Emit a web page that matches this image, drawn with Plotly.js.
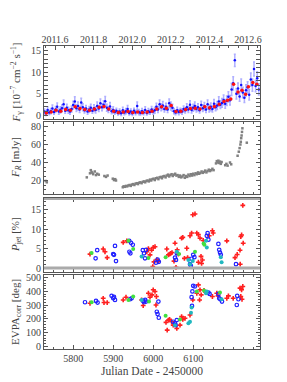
<!DOCTYPE html>
<html><head><meta charset="utf-8">
<script src="https://cdn.plot.ly/plotly-3.0.1.min.js"></script>
<style>html,body{margin:0;padding:0;background:#fff}#chart{width:287px;height:382px}</style>
</head><body><div id="chart"></div>
<script>
// ---- Gamma-ray flux (daily-ish, blue) ----
const gBlueJD = [5728,5732,5736,5740,5744,5748,5752,5756,5760,5764,
5768,5772,5776,5780,5784,5788,5792,5796,5800,5804,
5808,5812,5816,5820,5824,5828,5832,5836,5840,5844,
5848,5852,5856,5860,5864,5868,5872,5876,5880,5884,
5888,5892,5896,5900,5904,5908,5912,5916,5920,5924,
5928,5932,5936,5940,5944,5948,5952,5956,5960,5964,
5968,5972,5976,5980,5984,5988,5992,5996,6000,6004,
6008,6012,6016,6020,6024,6028,6032,6036,6040,6044,
6048,6052,6056,6060,6064,6068,6072,6076,6080,6084,
6088,6092,6096,6100,6104,6108,6112,6116,6120,6124,
6128,6132,6136,6140,6144,6148,6152,6156,6160,6164,
6168,6172,6176,6180,6184,6188,6192,6196,6200,6204,
6208,6212,6216,6220,6224,6228,6232,6236,6240,6244,
6248,6252,6256,6260,6264];
const gBlueVal = [0.9,0.5,1.3,0.7,1.0,1.6,0.8,1.4,2.0,0.9,
1.3,1.7,2.6,1.1,1.8,1.2,0.9,1.5,2.4,3.2,
1.7,2.2,1.4,3.0,1.9,1.2,1.6,0.9,1.4,1.8,
1.1,1.7,1.3,2.2,1.6,2.8,1.9,2.5,3.3,1.8,
1.4,2.1,1.0,1.3,0.8,1.1,0.6,0.9,0.5,1.2,
0.7,1.0,1.5,0.6,0.9,0.5,1.1,0.7,2.2,0.8,
0.6,1.0,0.7,1.3,0.6,1.0,0.8,1.4,0.9,1.2,
2.0,1.4,2.6,1.9,2.3,1.5,2.0,1.4,2.8,2.2,
1.8,1.0,0.7,1.2,0.8,1.1,0.9,1.5,1.2,1.9,
1.4,2.5,1.3,1.8,2.2,1.5,1.9,1.2,2.4,1.7,
2.1,1.4,2.6,1.6,2.0,1.5,2.7,1.9,2.3,3.2,
2.5,2.9,3.6,2.7,3.4,4.3,3.5,6.0,7.4,12.7,
5.0,6.2,4.4,7.0,5.3,4.1,5.8,6.5,4.8,8.3,
7.0,10.7,6.8,8.6,6.0];
const gBlueErr = [0.6,0.5,0.7,0.5,0.6,0.8,0.5,0.7,0.9,0.6,
0.7,0.8,1.0,0.6,0.8,0.7,0.6,0.7,0.9,1.1,
0.8,0.9,0.7,1.0,0.8,0.6,0.7,0.6,0.7,0.8,
0.6,0.8,0.7,0.9,0.7,1.0,0.8,0.9,1.1,0.8,
0.7,0.9,0.6,0.7,0.5,0.6,0.5,0.6,0.5,0.7,
0.5,0.6,0.8,0.5,0.6,0.5,0.6,0.5,0.9,0.6,
0.5,0.6,0.5,0.7,0.5,0.6,0.5,0.7,0.6,0.7,
0.8,0.7,1.0,0.8,0.9,0.7,0.8,0.7,1.0,0.9,
0.8,0.6,0.5,0.7,0.6,0.6,0.6,0.7,0.6,0.8,
0.7,0.9,0.7,0.8,0.9,0.7,0.8,0.6,0.9,0.8,
0.9,0.7,1.0,0.8,0.9,0.7,1.0,0.8,0.9,1.1,
0.9,1.0,1.1,1.0,1.1,1.2,1.1,1.4,1.5,1.4,
1.2,1.3,1.1,1.4,1.2,1.1,1.3,1.3,1.2,1.5,
1.4,1.6,1.3,1.5,1.3];
// ---- Gamma-ray flux (binned, red) ----
const gRedJD = [5733,5745,5757,5769,5781,5793,5805,5817,5829,5841,5853,5865,5877,5889,5901,5913,5925,5937,5949,5961,5973,5985,5997,6009,6021,6033,6045,6057,6069,6081,6093,6105,6117,6129,6141,6153,6165,6177,6186,6194,6201,6212,6222,6231,6238,6249,6259];
const gRedVal = [0.6,0.8,1.2,1.0,1.4,1.2,2.0,1.6,1.4,1.2,1.5,1.9,2.1,1.5,1.0,0.7,0.8,0.9,0.7,0.8,0.7,0.8,1.0,1.5,2.0,1.7,2.3,0.9,1.0,1.4,1.6,1.7,1.5,2.0,1.8,2.1,2.6,3.2,3.5,3.8,7.2,5.4,5.8,4.9,6.6,7.6,7.2];
// ---- R-band flux ----
const frJD = [5731,5734,5834,5842,5844,5846,5848,5850,5854,5857,5860,5864,5878,5882,5886,5899,5902,5905,5907,
5924,5926,5929,5932,5935,5938,5941,5944,5947,5950,5953,5956,5959,5962,5965,5968,5971,5974,5977,5980,
5983,5986,5989,5992,5995,5998,6001,6004,6007,6010,6013,6016,6019,6022,6025,6028,6031,6034,6037,6040,
6043,6046,6049,6052,6055,6058,6061,6064,6067,6070,6073,6076,6079,6082,6085,6088,6091,6094,6097,6100,
6103,6106,6109,6112,6115,6118,6121,6124,6127,6130,6133,6136,6139,6142,6145,6148,6151,
6157,6159,6161,6163,6165,6167,6169,6171,6180,6183,6186,6192,6195,
6211,6214,6216,6218,6219,6220,6221,6222,6223,6234];
const frVal = [19.5,18.0,23.5,28.0,31.5,29.5,28.5,27.0,30.0,26.0,27.5,26.5,25.0,24.0,25.5,22.0,20.5,21.5,20.0,
12.5,13.5,13.0,14.0,13.5,14.5,15.0,14.0,15.5,16.0,15.0,16.5,17.0,16.0,17.5,18.0,17.0,18.5,19.0,18.0,
19.5,20.0,19.0,21.0,20.0,21.5,22.0,20.5,22.5,23.0,21.5,23.5,24.0,22.5,24.5,25.0,23.5,25.5,26.5,24.5,
26.0,27.0,25.0,26.5,27.5,25.5,26.0,24.0,25.5,23.5,24.5,26.0,23.0,25.0,24.0,26.5,25.0,27.0,25.5,27.5,
26.0,28.0,27.0,29.0,27.5,28.5,30.0,28.5,29.5,31.0,29.0,30.5,32.0,30.5,31.5,33.0,31.5,
39.0,41.5,40.0,42.0,39.5,41.0,38.5,40.5,37.0,38.5,36.5,40.0,38.0,
47.5,52.0,56.0,60.0,63.0,67.0,70.0,74.0,78.0,62.0];
// ---- Polarization degree ----
const pRedJD = [5842,5875,5879.5,5885,5925,5934,5984,5988,5992,5996,6000,6004.5,6002,5999,6009,6013,6034,6038,6041,6044,6047,6054.5,6052,6057,6060,6063,6071,6074,6078,6084,6086,6092,6096,6099,6104.5,6109,6113,6117,6119.5,6123,6113,6121,6125,6148,6150,6140,6184,6204.5,6217,6219,6221,6217.5,6224,6225,6210];
const pRedVal = [3.6,4.9,4.2,2.7,6.6,7.0,4.2,5.0,3.4,4.6,5.3,5.5,1.6,0.4,2.2,1.7,4.9,3.4,3.6,3.8,4.0,6.4,1.8,0.2,4.7,3.6,7.7,7.9,2.5,5.1,2.7,8.3,9.0,13.7,13.9,9.0,8.6,7.7,3.0,2.1,1.5,1.2,7.1,9.6,9.0,8.3,7.0,2.7,4.6,8.1,8.5,1.0,16.1,6.4,3.5];
const pBlueJD = [5856,5860,5904.5,5900,5902,5907,5940,5944.5,5949,5940.5,5943,5974,5977,5979.5,5982,6007,6011,6014,6054.5,6059,6057,6092,6094,6096,6100,6103,6136,6134,6138,6163,6165,6167,6169,6207];
const pBlueVal = [2.5,4.6,5.7,3.6,3.4,1.8,7.0,6.5,6.0,4.2,3.8,4.6,3.8,2.5,4.7,1.4,2.2,1.6,2.7,3.8,2.1,1.0,0.6,2.4,3.4,2.8,9.0,8.3,7.3,6.2,4.7,4.0,3.4,1.0];
const pGreenJD = [5846,5938,5950,5988,6031,6064.5,6104.5,6128,6126];
const pGreenVal = [3.9,7.0,4.9,2.6,2.8,3.6,4.2,6.0,6.3];
const pCyanJD = [5971,6059,6088,6092,6099,6134,6132,6171,6169];
const pCyanVal = [3.0,4.2,2.1,1.0,1.8,5.3,7.0,1.5,2.8];
// ---- EVPA ----
const eBlueJD = [5829.5,5857,5861,5896,5900,5904.5,5902,5942,5946,5975,5977,5980,5982,6009,6011,6014,6013,6050,6054.5,6059,6056,6096,6097,6100,6104,6098,6138,6141,6163,6165,6168,6172,6209,6210,6213];
const eBlueVal = [321,331,319,368,351,338,360,343,350,331,321,338,326,252,235,208,326,179,167,191,154,358,294,441,436,400,392,382,382,350,343,326,301,368,343];
const eRedJD = [5842,5875,5877,5885,5925,5932,5971,5975,5988,5992,5997,6000,6004.5,6008,6007,6032,6035,6038,6041,6046,6050,6059,6067,6071,6074,6079.5,6092,6099,6109,6113,6117,6120,6116,6127,6148,6159,6162,6184,6188,6200,6217,6221,6224,6219,6222];
const eRedVal = [314,350,319,319,338,358,338,297,387,358,375,412,400,363,301,174,118,191,196,179,154,130,154,216,196,204,228,338,387,448,412,375,338,407,363,387,368,350,368,350,424,412,436,363,343];
const eGreenJD = [5846,5938,5950,5989.5,6031,6067,6109,6127,6167];
const eGreenVal = [321,338,363,326,223,196,400,407,392];
const eCyanJD = [5971,6054.5,6088,6092,6094.5,6096,6134,6132,6171];
const eCyanVal = [338,154,167,179,245,282,400,387,343];
// ---- axes ----
const jdRange = [5727, 6267];
const yearRange = [2011.543, 2012.662];
const jdTicks = [5800, 5900, 6000, 6100];
const yearTicks = [2011.6, 2011.8, 2012.0, 2012.2, 2012.4, 2012.6];

const W = 287, H = 382;
const xd = [44/W, 260/W];
const pan = [[46,119],[122,194],[198,272],[275,349]].map(p => [1-p[1]/H, 1-p[0]/H]);

const FONT = 'Liberation Serif, DejaVu Serif, serif';
const axisCol = '#555';
const txtCol = '#444';
const FS = 10;

function xax(extra){
  return Object.assign({domain: xd, range: jdRange, showgrid:false, zeroline:false,
    showline:true, linecolor:axisCol, linewidth:1, ticks:'inside', ticklen:4, tickcolor:axisCol,
    tickvals: jdTicks, automargin:false,
    minor:{dtick:25, ticks:'inside', ticklen:2, tickcolor:axisCol},
    tickfont:{family:FONT, size:FS, color:txtCol}}, extra);
}
function yax(dom, range, tv, mdt, extra){
  return Object.assign({domain: dom, range: range, showgrid:false, zeroline:false,
    showline:true, linecolor:axisCol, linewidth:1, ticks:'inside', ticklen:4, tickcolor:axisCol,
    tickvals: tv, mirror:'allticks', automargin:false,
    minor:{dtick:mdt, ticks:'inside', ticklen:2, tickcolor:axisCol},
    tickfont:{family:FONT, size:FS, color:txtCol}}, extra||{});
}

const traces = [
  {x:gBlueJD, y:gBlueVal, xaxis:'x', yaxis:'y', type:'scatter', mode:'markers',
   marker:{color:'#1010ff', size:2.5},
   error_y:{type:'data', array:gBlueErr, color:'rgba(110,110,255,0.55)', thickness:1.5, width:1}},
  {x:gRedJD, y:gRedVal, xaxis:'x', yaxis:'y', type:'scatter', mode:'markers',
   marker:{color:'#ff1010', size:3.5}},
  {x:frJD, y:frVal, xaxis:'x2', yaxis:'y2', type:'scatter', mode:'markers',
   marker:{color:'#808080', size:2.5, symbol:'square'}},
  {x:pRedJD, y:pRedVal, xaxis:'x3', yaxis:'y3', type:'scatter', mode:'markers',
   marker:{color:'#ff2020', size:4, symbol:'cross'}},
  {x:pBlueJD, y:pBlueVal, xaxis:'x3', yaxis:'y3', type:'scatter', mode:'markers',
   marker:{color:'#2020ff', size:3.5, symbol:'circle-open', line:{width:1.2, color:'#2020ff'}}},
  {x:pGreenJD, y:pGreenVal, xaxis:'x3', yaxis:'y3', type:'scatter', mode:'markers',
   marker:{color:'#40e040', size:4}},
  {x:pCyanJD, y:pCyanVal, xaxis:'x3', yaxis:'y3', type:'scatter', mode:'markers',
   marker:{color:'#20b8c0', size:4}},
  {x:eRedJD, y:eRedVal, xaxis:'x4', yaxis:'y4', type:'scatter', mode:'markers',
   marker:{color:'#ff2020', size:4, symbol:'cross'}},
  {x:eBlueJD, y:eBlueVal, xaxis:'x4', yaxis:'y4', type:'scatter', mode:'markers',
   marker:{color:'#2020ff', size:3.5, symbol:'circle-open', line:{width:1.2, color:'#2020ff'}}},
  {x:eGreenJD, y:eGreenVal, xaxis:'x4', yaxis:'y4', type:'scatter', mode:'markers',
   marker:{color:'#40e040', size:4}},
  {x:eCyanJD, y:eCyanVal, xaxis:'x4', yaxis:'y4', type:'scatter', mode:'markers',
   marker:{color:'#20b8c0', size:4}},
  {x:[2012.0], y:[-100], xaxis:'x5', yaxis:'y', type:'scatter', mode:'markers', marker:{size:1, opacity:0}, hoverinfo:'skip'}
];

const layout = {
  width:W, height:H, margin:{l:0,r:0,t:0,b:0}, showlegend:false,
  paper_bgcolor:'#fff', plot_bgcolor:'#fff',
  xaxis: xax({anchor:'y', showticklabels:false, mirror:true}),
  xaxis2: xax({anchor:'y2', showticklabels:false, mirror:'allticks', matches:'x'}),
  xaxis3: xax({anchor:'y3', showticklabels:false, mirror:'allticks', matches:'x'}),
  xaxis4: xax({anchor:'y4', showticklabels:true, mirror:'allticks', matches:'x'}),
  xaxis5: {domain:xd, range:yearRange, anchor:'y', overlaying:'x', side:'top', showgrid:false, zeroline:false,
    showline:false, ticks:'inside', ticklen:4, tickcolor:axisCol, tickvals:yearTicks, tickformat:'.1f',
    minor:{dtick:0.05, ticks:'inside', ticklen:2, tickcolor:axisCol}, automargin:false,
    tickfont:{family:FONT, size:FS, color:txtCol}},
  yaxis: yax(pan[0], [-0.8,16], [0,5,10,15], 1),
  yaxis2: yax(pan[1], [5,85], [20,40,60,80], 5),
  yaxis3: yax(pan[2], [-1,18], [0,5,10,15], 1),
  yaxis4: yax(pan[3], [-20,520], [0,100,200,300,400,500], 20),
  shapes: [
    {type:'line', xref:'paper', x0:xd[0], x1:xd[1], yref:'y3', y0:0, y1:0, line:{color:'#aaa', width:3}},
    {type:'line', xref:'paper', x0:xd[0], x1:xd[1], yref:'y3', y0:17.75, y1:17.75, line:{color:'#aaa', width:2}}
  ],
  annotations: [
    {text:'<i>F</i><sub>γ</sub> [10<sup>−7</sup> cm<sup>−2</sup> s<sup>−1</sup>]', xref:'paper', yref:'paper', x:16/W, y:1-82.5/H,
     textangle:-90, showarrow:false, font:{family:FONT, size:11, color:txtCol}, xanchor:'center', yanchor:'middle'},
    {text:'<i>F</i><sub><i>R</i></sub> [mJy]', xref:'paper', yref:'paper', x:16/W, y:1-158/H,
     textangle:-90, showarrow:false, font:{family:FONT, size:11, color:txtCol}, xanchor:'center', yanchor:'middle'},
    {text:'<i>P</i><sub>jet</sub> [%]', xref:'paper', yref:'paper', x:16/W, y:1-235/H,
     textangle:-90, showarrow:false, font:{family:FONT, size:11, color:txtCol}, xanchor:'center', yanchor:'middle'},
    {text:'EVPA<sub>corr</sub> [deg]', xref:'paper', yref:'paper', x:16/W, y:1-312/H,
     textangle:-90, showarrow:false, font:{family:FONT, size:11, color:txtCol}, xanchor:'center', yanchor:'middle'},
    {text:'Julian Date - 2450000', xref:'paper', yref:'paper', x:152/W, y:1-371/H,
     showarrow:false, font:{family:FONT, size:11.5, color:txtCol}, xanchor:'center', yanchor:'middle'}
  ]
};
Plotly.newPlot('chart', traces, layout, {staticPlot:true, displayModeBar:false});
</script></body></html>
